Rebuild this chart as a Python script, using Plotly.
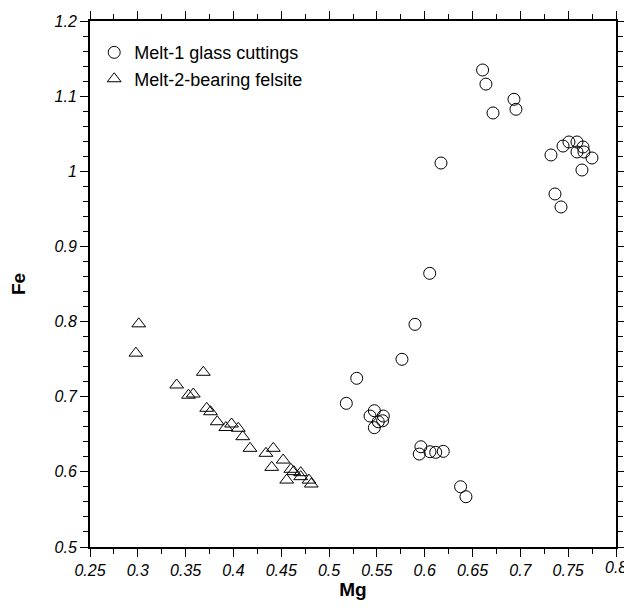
import plotly.graph_objects as go

# Melt-1 glass cuttings (circles)
melt1_mg = [0.6052, 0.5898, 0.5762, 0.5289, 0.5180, 0.5473, 0.5428, 0.5567, 0.5560,
            0.5514, 0.5473, 0.5960, 0.5943, 0.6055, 0.6115, 0.6194, 0.6375, 0.6431,
            0.6170, 0.6605, 0.6640, 0.6714, 0.6933, 0.6954, 0.7320, 0.7446, 0.7508,
            0.7592, 0.7655, 0.7665, 0.7592, 0.7749, 0.7644, 0.7362, 0.7425]
melt1_fe = [0.8642, 0.7963, 0.7498, 0.7245, 0.6912, 0.6814, 0.6743, 0.6743, 0.6680,
            0.6667, 0.6588, 0.6334, 0.6237, 0.6268, 0.6260, 0.6273, 0.5802, 0.5669,
            1.0110, 1.1348, 1.1160, 1.0776, 1.0958, 1.0825, 1.0217, 1.0336, 1.0390,
            1.0390, 1.0323, 1.0257, 1.0257, 1.0177, 1.0017, 0.9698, 0.9525]

# Melt-2-bearing felsite (triangles)
melt2_mg = [0.301, 0.298, 0.3685, 0.3406, 0.353, 0.358, 0.372, 0.376, 0.383, 0.392,
            0.398, 0.405, 0.4097, 0.4173, 0.434, 0.4417, 0.440, 0.452, 0.460, 0.463,
            0.4557, 0.4703, 0.4703, 0.479, 0.4814]
melt2_fe = [0.797, 0.758, 0.7325, 0.7156, 0.702, 0.7036, 0.6846, 0.680, 0.6667, 0.659,
            0.6637, 0.658, 0.6468, 0.6313, 0.6247, 0.6313, 0.606, 0.6157, 0.6034, 0.6003,
            0.5891, 0.5989, 0.5936, 0.589, 0.5838]

# Tick labels (the last x label is drawn as an annotation at the axis end)
x_ticks = [0.25, 0.3, 0.35, 0.4, 0.45, 0.5, 0.55, 0.6, 0.65, 0.7, 0.75, 0.8]
x_tick_text = ["0.25", "0.3", "0.35", "0.4", "0.45", "0.5", "0.55", "0.6", "0.65", "0.7", "0.75", ""]
x_end_value = 0.8
x_end_label = "0.8"
y_ticks = [0.5, 0.6, 0.7, 0.8, 0.9, 1.0, 1.1, 1.2]
y_tick_text = ["0.5", "0.6", "0.7", "0.8", "0.9", "1", "1.1", "1.2"]

font_family = "Liberation Sans, Arial, sans-serif"
tick_font = dict(family=font_family, size=16, color="black", style="italic")

fig = go.Figure()
fig.add_trace(go.Scatter(
    x=melt1_mg, y=melt1_fe, mode="markers", name="Melt-1 glass cuttings",
    marker=dict(symbol="circle-open", size=12, color="black", line=dict(width=1, color="black")),
))
fig.add_trace(go.Scatter(
    x=melt2_mg, y=melt2_fe, mode="markers", name="Melt-2-bearing felsite",
    marker=dict(symbol="triangle-up-open", size=12, color="black", line=dict(width=1, color="black")),
))

axis_common = dict(
    showgrid=False, zeroline=False, showline=True, linecolor="black", linewidth=2,
    mirror="allticks", ticks="outside", ticklen=8, tickwidth=1, tickcolor="black",
    automargin=False, ticklabeloverflow="allow",
    tickfont=tick_font,
)

fig.add_annotation(
    x=x_end_value, xref="x", y=0, yref="paper", text=x_end_label,
    showarrow=False, xanchor="center", yanchor="top", yshift=-10,
    font=tick_font,
)

fig.update_layout(
    width=620, height=593,
    margin=dict(l=82, r=12, t=13, b=54),
    paper_bgcolor="white", plot_bgcolor="white",
    font=dict(family=font_family, color="black"),
    showlegend=True,
    legend=dict(
        x=0.008, y=0.975, xanchor="left", yanchor="top",
        font=dict(family=font_family, size=18, color="black"),
        bgcolor="rgba(0,0,0,0)", itemwidth=30, tracegroupgap=0,
    ),
    xaxis=dict(
        range=[0.25, 0.8], tickmode="array", tickvals=x_ticks, ticktext=x_tick_text,
        minor=dict(tickmode="linear", tick0=0.25, dtick=0.025, ticks="outside", ticklen=5, tickcolor="black"),
        title=dict(text="<b>Mg</b>", font=dict(family=font_family, size=19, color="black"), standoff=4),
        **axis_common,
    ),
    yaxis=dict(
        range=[0.5, 1.2], tickmode="array", tickvals=y_ticks, ticktext=y_tick_text,
        minor=dict(tickmode="linear", tick0=0.5, dtick=0.02, ticks="outside", ticklen=5, tickcolor="black"),
        title=dict(text="<b>Fe</b>", font=dict(family=font_family, size=19, color="black"), standoff=25),
        **axis_common,
    ),
)

fig.write_html("out.html")
